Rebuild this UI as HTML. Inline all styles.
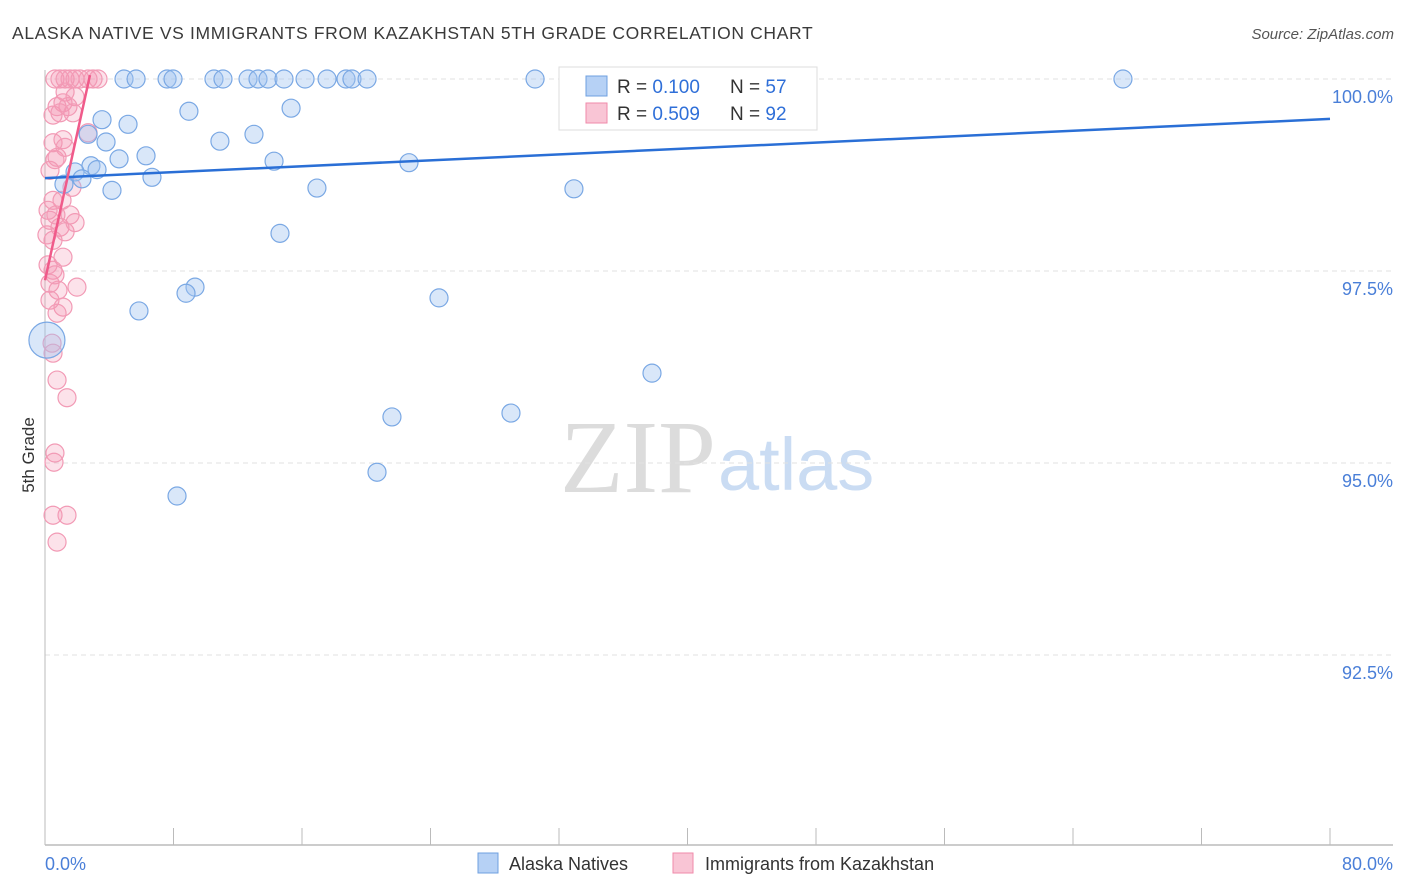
<!DOCTYPE html>
<html><head><meta charset="utf-8"><style>
body{margin:0;background:#fff;font-family:"Liberation Sans",sans-serif;}
svg{display:block}
</style></head><body>
<svg id="chart" width="1406" height="892">
<text x="12" y="39" font-size="17.5" fill="#3a3a3a" letter-spacing="0.65">ALASKA NATIVE VS IMMIGRANTS FROM KAZAKHSTAN 5TH GRADE CORRELATION CHART</text>
<text x="1394" y="39" font-size="15" fill="#555" font-style="italic" text-anchor="end">Source: ZipAtlas.com</text>
<text x="716" y="492" font-size="104" fill="#dcdcdc" text-anchor="end" font-family="Liberation Serif,serif">ZIP</text>
<text x="718" y="490" font-size="74" fill="#cadcf3">atlas</text>
<text transform="translate(34,455) rotate(-90)" font-size="17" fill="#333" text-anchor="middle">5th Grade</text>
<g id="grid"></g><g id="pts"></g><g id="lines"></g>
<g>
<rect x="559" y="67" width="258" height="63" fill="#fff" stroke="#ddd"/>
<rect x="586" y="76" width="21" height="20" fill="#b6d1f5" stroke="#6fa0e0"/>
<rect x="586" y="103" width="21" height="20" fill="#f9c5d5" stroke="#f08aaa"/>
<text x="617" y="93" font-size="19" fill="#333">R = <tspan fill="#2f6fd8">0.100</tspan></text>
<text x="730" y="93" font-size="19" fill="#333">N = <tspan fill="#2f6fd8">57</tspan></text>
<text x="617" y="120" font-size="19" fill="#333">R = <tspan fill="#2f6fd8">0.509</tspan></text>
<text x="730" y="120" font-size="19" fill="#333">N = <tspan fill="#2f6fd8">92</tspan></text>
</g>
<g>
<rect x="478" y="853" width="20" height="20" fill="#b6d1f5" stroke="#6fa0e0"/>
<text x="509" y="870" font-size="18" fill="#333">Alaska Natives</text>
<rect x="673" y="853" width="20" height="20" fill="#f9c5d5" stroke="#f08aaa"/>
<text x="705" y="870" font-size="18" fill="#333">Immigrants from Kazakhstan</text>
</g>
<text x="45" y="870" font-size="18" fill="#4a7fd8">0.0%</text>
<text x="1393" y="870" font-size="18" fill="#4a7fd8" text-anchor="end">80.0%</text>
</svg>
<script>
const yTicks=[100,97.5,95,92.5];
const yTickLabels=["100.0%","97.5%","95.0%","92.5%"];
const xTicks=[0,8,16,24,32,40,48,56,64,72,80];
const blueX=[4.92,5.67,7.6,7.97,10.52,11.08,12.64,13.26,13.88,14.88,16.19,17.56,18.74,19.11,20.05,30.51,41.46,44.76,67.11,8.96,15.32,5.17,3.55,2.68,3.80,10.89,13.01,6.29,4.61,14.26,22.66,2.86,3.24,1.87,2.30,1.18,6.66,4.17,16.93,32.93,14.63,9.34,8.78,24.53,5.85,37.79,21.6,29.01,20.67,8.22];
const blueY=[100,100,100,100,100,100,100,100,100,100,100,100,100,100,100,100,100,100,100,99.58,99.62,99.41,99.47,99.28,99.18,99.19,99.28,99.0,98.96,98.93,98.91,98.87,98.82,98.79,98.70,98.63,98.72,98.55,98.58,98.57,97.99,97.29,97.21,97.15,96.98,96.17,95.6,95.65,94.88,94.57];
const pinkX=[0.62,0.93,1.25,1.56,1.87,2.18,2.68,2.99,3.30,1.25,1.87,0.75,1.12,1.43,0.5,0.93,1.74,2.68,0.5,1.12,0.75,0.31,0.62,1.25,1.68,0.5,0.31,0.93,1.25,1.87,0.5,1.12,0.5,0.31,0.81,1.99,0.31,1.12,0.75,0.44,0.5,0.75,1.37,0.62,0.56,0.5,1.37,0.75,0.19,0.68,1.06,0.12,1.56,0.19,0.62];
const pinkY=[100,100,100,100,100,100,100,100,100,99.83,99.77,99.64,99.69,99.64,99.53,99.56,99.56,99.3,99.17,99.21,98.98,98.81,98.95,99.11,98.59,98.42,98.16,98.07,98.01,98.13,97.9,97.68,97.51,97.34,97.25,97.29,97.12,97.03,96.95,96.56,96.43,96.08,95.85,95.13,95.01,94.32,94.32,93.97,98.29,98.23,98.42,97.97,98.23,97.58,97.45];
const blueLine=[[0,98.71],[80,99.48]];
const pinkLine=[[0,97.38],[2.8,100.05]];
const NS="http://www.w3.org/2000/svg";
const X=v=>45+v/80*1285, Y=v=>79+(100-v)/2.5*192;
function mk(tag,attrs,parent){const e=document.createElementNS(NS,tag);for(const k in attrs)e.setAttribute(k,attrs[k]);parent.appendChild(e);return e;}
const grid=document.getElementById('grid');
yTicks.forEach((t,i)=>{
 const l=mk('line',{x1:45,x2:1393,y1:Y(t),y2:Y(t),stroke:'#e2e2e2','stroke-dasharray':'5,4'},grid);
 
 
 const tx=mk('text',{x:1393,y:Y(t)+24,'font-size':18,fill:'#4a7fd8','text-anchor':'end'},grid);
 tx.textContent=yTickLabels[i];
 
 
});
const ax=mk('line',{x1:45,x2:1393,y1:845,y2:845,stroke:'#bbb','stroke-width':1.5},grid);


const ay=mk('line',{x1:45,x2:45,y1:70,y2:845,stroke:'#bbb','stroke-width':1},grid);


xTicks.forEach(t=>{
 const l=mk('line',{x1:X(t),x2:X(t),y1:828,y2:845,stroke:'#bbb'},grid);
 
 
});
const pts=document.getElementById('pts');
pinkX.forEach((x,i)=>{
 const c=mk('circle',{cx:X(x),cy:Y(pinkY[i]),r:9,fill:'rgba(244,150,180,0.28)',stroke:'#f29ab5','stroke-width':1.2},pts);
 
 
});
blueX.forEach((x,i)=>{
 const c=mk('circle',{cx:X(x),cy:Y(blueY[i]),r:9,fill:'rgba(160,196,240,0.4)',stroke:'#7aa8e4','stroke-width':1.2},pts);
 
 
});
const big=mk('circle',{cx:X(0.12),cy:Y(96.6),r:18,fill:'rgba(160,196,240,0.4)',stroke:'#7aa8e4','stroke-width':1.2},pts);


const lines=document.getElementById('lines');
const bl=mk('line',{x1:X(blueLine[0][0]),y1:Y(blueLine[0][1]),x2:X(blueLine[1][0]),y2:Y(blueLine[1][1]),stroke:'#2a6fd6','stroke-width':2.5},lines);


const pl=mk('line',{x1:X(pinkLine[0][0]),y1:Y(pinkLine[0][1]),x2:X(pinkLine[1][0]),y2:Y(pinkLine[1][1]),stroke:'#f05a8a','stroke-width':2.5},lines);


</script>
</body></html>
